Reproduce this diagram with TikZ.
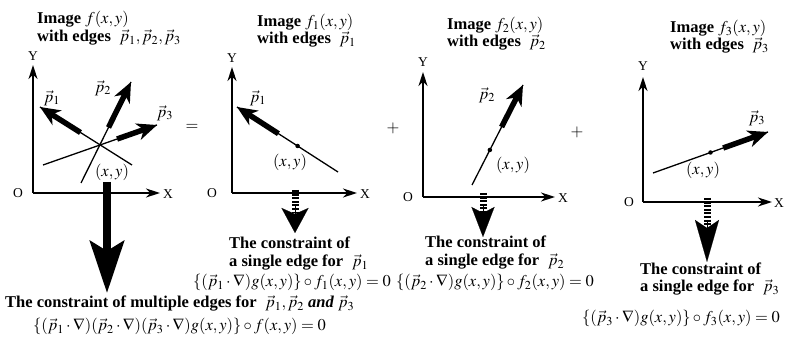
\documentclass[tikz,border=0pt]{standalone}
\usepackage{mathptmx}
\usepackage[no-math]{fontspec}
\setmainfont{Liberation Serif}
\usetikzlibrary{arrows.meta,calc}
\tikzset{
 ttl/.style={font=\fontsize{16.5}{18}\selectfont\bfseries, inner sep=0pt, anchor=base west},
 plbl/.style={font=\fontsize{16.5}{18}\selectfont, inner sep=0pt},
 axlbl/.style={font=\fontsize{13.5}{15}\selectfont, inner sep=0pt},
 axis/.style={line width=1.6pt, -{Stealth[length=14pt,width=9pt,inset=4.5pt]}},
 edgeline/.style={line width=1.3pt},
 fat/.style={line width=5.5pt, -{Stealth[length=20pt,width=17pt,inset=6pt]}},
 dot/.style={circle, fill, inner sep=0pt, minimum size=4.5pt},
 eqn/.style={font=\fontsize{16.5}{18}\selectfont, inner sep=0pt, anchor=base west},
 stripe/.style={line width=7pt, dash pattern=on 2pt off 1.6pt},
}
\begin{document}
\begin{tikzpicture}[x=1pt,y=-1pt]
\useasboundingbox (0,0) rectangle (785,347);
% ---------- Panel 1 ----------
\node[ttl] (t1a) at (37,24) {Image $f(x,y)$};
\node[ttl] (t1b) at (37,42) {with edges\; $\vec p_1,\vec p_2,\vec p_3$};
\coordinate (O1) at (33,193); \coordinate (Y1) at (33,65); \coordinate (X1) at (160,193);
\draw[axis] (O1) -- (Y1);
\draw[axis] (O1) -- (X1);
\node[axlbl] (y1) at (33,56) {Y};
\node[axlbl] (o1) at (18,193) {O};
\node[axlbl] (x1) at (168,194) {X};
\coordinate (a1) at (132,165); \coordinate (e1) at (40,107);
\coordinate (a2) at (81,183); \coordinate (e2) at (131,82);
\coordinate (a3) at (43,165); \coordinate (e3) at (157,125);
\draw[edgeline] (a1) -- (e1);
\draw[edgeline] (a2) -- (e2);
\draw[edgeline] (a3) -- (e3);
\draw[fat] ($(a1)!0.56!(e1)$) -- (e1);
\draw[fat] ($(a2)!0.55!(e2)$) -- (e2);
\draw[fat] ($(a3)!0.65!(e3)$) -- (e3);
\node[plbl] (lp1) at (52,98) {$\vec p_1$};
\node[plbl] (lp2) at (103,88) {$\vec p_2$};
\node[plbl] (lp3) at (165,113) {$\vec p_3$};
\node[plbl] (xy1) at (112,172) {$(x,y)$};
\node[plbl] (eq) at (192,127) {$=$};
% big arrow
\coordinate (B0) at (107,182); \coordinate (B1) at (107,293);
\draw[line width=8pt, -{Stealth[length=52pt,width=34pt,inset=10pt]}] (B0) -- (B1);
\node[ttl] (c1) at (5,308) {The constraint of multiple edges for\; $\vec p_1,\vec p_2$ \textit{and} $\vec p_3$};
\node[eqn] (f1) at (33,331) {$\{(\vec p_1\cdot\nabla)(\vec p_2\cdot\nabla)(\vec p_3\cdot\nabla)g(x,y)\}\circ f(x,y)=0$};
% ---------- Panel 2 ----------
\node[ttl] (t2a) at (257,27) {Image $f_1(x,y)$};
\node[ttl] (t2b) at (257,44) {with edges\; $\vec p_1$};
\coordinate (O2) at (232,193); \coordinate (Y2) at (232,67); \coordinate (X2) at (357,193);
\draw[axis] (O2) -- (Y2);
\draw[axis] (O2) -- (X2);
\node[axlbl] (y2) at (232,58) {Y};
\node[axlbl] (o2) at (212,193) {O};
\node[axlbl] (x2) at (365,194) {X};
\coordinate (b1) at (338,172); \coordinate (g1) at (237,107);
\draw[edgeline] (b1) -- (g1);
\draw[fat] ($(b1)!0.59!(g1)$) -- (g1);
\node[dot] (d2) at ($(b1)!0.4!(g1)$) {};
\node[plbl] (lq1) at (258,98) {$\vec p_1$};
\node[plbl] (xy2) at (290,162) {$(x,y)$};
\node[plbl] (plus1) at (393,128) {$+$};
\coordinate (S2a) at (295,190); \coordinate (S2b) at (295,212);
\coordinate (H2a) at (295,205); \coordinate (H2b) at (295,233);
\draw[stripe] (S2a) -- (S2b);
\draw[line width=0.1pt, -{Stealth[length=25pt,width=27pt,inset=6pt]}] (H2a) -- (H2b);
\node[ttl] (c2a) at (229,249) {The constraint of};
\node[ttl] (c2b) at (229,267) {a single edge for\; $\vec p_1$};
\node[eqn] (f2) at (193,287) {$\{(\vec p_1\cdot\nabla)g(x,y)\}\circ f_1(x,y)=0$};
% ---------- Panel 3 ----------
\node[ttl] (t3a) at (447,30) {Image $f_2(x,y)$};
\node[ttl] (t3b) at (447,47) {with edges\; $\vec p_2$};
\coordinate (O3) at (423,197); \coordinate (Y3) at (423,72); \coordinate (X3) at (555,197);
\draw[axis] (O3) -- (Y3);
\draw[axis] (O3) -- (X3);
\node[axlbl] (y3) at (423,62) {Y};
\node[axlbl] (o3) at (408,197) {O};
\node[axlbl] (x3) at (563,198) {X};
\coordinate (b2) at (472,185); \coordinate (g2) at (523,85);
\draw[edgeline] (b2) -- (g2);
\draw[fat] ($(b2)!0.58!(g2)$) -- (g2);
\node[dot] (d3) at ($(b2)!0.35!(g2)$) {};
\node[plbl] (lq2) at (487,95) {$\vec p_2$};
\node[plbl] (xy3) at (513,165) {$(x,y)$};
\node[plbl] (plus2) at (577,132) {$+$};
\coordinate (S3a) at (483,193); \coordinate (S3b) at (483,214);
\coordinate (H3a) at (483,206); \coordinate (H3b) at (483,237);
\draw[stripe] (S3a) -- (S3b);
\draw[line width=0.1pt, -{Stealth[length=30pt,width=23pt,inset=6pt]}] (H3a) -- (H3b);
\node[ttl] (c3a) at (425,248) {The constraint of};
\node[ttl] (c3b) at (425,266) {a single edge for\; $\vec p_2$};
\node[eqn] (f3) at (396,287) {$\{(\vec p_2\cdot\nabla)g(x,y)\}\circ f_2(x,y)=0$};
% ---------- Panel 4 ----------
\node[ttl] (t4a) at (670,33) {Image $f_3(x,y)$};
\node[ttl] (t4b) at (670,50) {with edges\; $\vec p_3$};
\coordinate (O4) at (643,202); \coordinate (Y4) at (643,77); \coordinate (X4) at (772,202);
\draw[axis] (O4) -- (Y4);
\draw[axis] (O4) -- (X4);
\node[axlbl] (y4) at (643,66) {Y};
\node[axlbl] (o4) at (629,202) {O};
\node[axlbl] (x4) at (779,203) {X};
\coordinate (b3) at (653,173); \coordinate (g3) at (768,132);
\draw[edgeline] (b3) -- (g3);
\draw[fat] ($(b3)!0.61!(g3)$) -- (g3);
\node[dot] (d4) at ($(b3)!0.5!(g3)$) {};
\node[plbl] (lq3) at (757,118) {$\vec p_3$};
\node[plbl] (xy4) at (703,170) {$(x,y)$};
\coordinate (S4a) at (707,198); \coordinate (S4b) at (707,226);
\coordinate (H4a) at (707,220); \coordinate (H4b) at (707,262);
\draw[stripe] (S4a) -- (S4b);
\draw[line width=0.1pt, -{Stealth[length=42pt,width=24pt,inset=8pt]}] (H4a) -- (H4b);
\node[ttl] (c4a) at (640,275) {The constraint of};
\node[ttl] (c4b) at (640,292) {a single edge for\; $\vec p_3$};
\node[eqn] (f4) at (582,323) {$\{(\vec p_3\cdot\nabla)g(x,y)\}\circ f_3(x,y)=0$};
\end{tikzpicture}
\end{document}
